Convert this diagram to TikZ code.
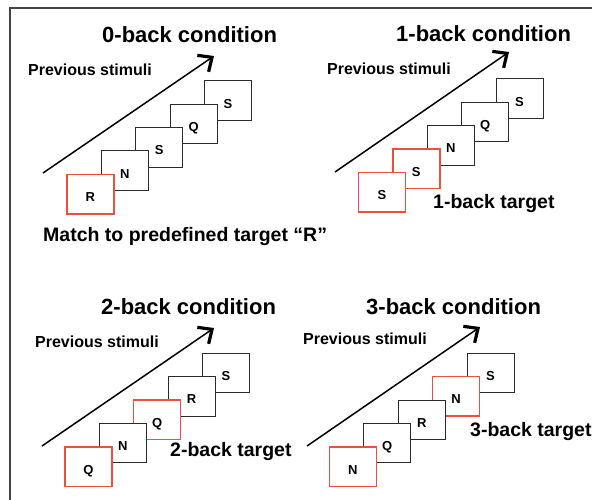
\documentclass[tikz,border=0pt]{standalone}
\usepackage{fontspec}
\setmainfont{Liberation Sans}
\usepackage{tikz}
\usetikzlibrary{positioning,arrows.meta}
\definecolor{tgtred}{HTML}{E8503F}
\definecolor{boxline}{HTML}{2B2B2B}
\definecolor{frameline}{HTML}{444444}
\tikzset{
  stim/.style={rectangle,draw=boxline,fill=white,line width=1pt,
    minimum width=47pt,minimum height=39.5pt,inner sep=0pt,outer sep=0pt,
    font=\fontsize{13}{14}\selectfont\bfseries,text height=15pt,text depth=0pt},
  tgt/.style={stim,draw=tgtred,line width=1.5pt},
  ttl/.style={anchor=base west,inner sep=0pt,font=\fontsize{22}{26}\selectfont\bfseries},
  prev/.style={anchor=base west,inner sep=0pt,font=\fontsize{16}{19}\selectfont\bfseries},
  lbl/.style={anchor=base west,inner sep=0pt,font=\fontsize{19.5}{23}\selectfont\bfseries},
  ar/.style={-{Straight Barb[length=11pt,width=20pt,line width=3.2pt]},line width=1.5pt,draw=black},
}

\begin{document}
\begin{tikzpicture}[x=1pt,y=-1pt,node distance=-16.1pt and -12.6pt]
  \useasboundingbox (0,0) rectangle (592,499);
  \draw[frameline,line width=1.4pt] (10,510) |- (600,8);

  % 0-back
  \node[ttl] (t0) at (102,42) {0-back condition};
  \node[prev] (p0) at (28,75) {Previous stimuli};
  \coordinate (a0s) at (43,173);
  \coordinate (a0e) at (214,56);
  \draw[ar] (a0s) -- (a0e);
  \node[stim] (a4) at (228,100.5) {S};
  \node[stim,below left=of a4] (a3) {Q};
  \node[stim,below left=of a3] (a2) {S};
  \node[stim,below left=of a2] (a1) {N};
  \node[tgt,below left=of a1] (a0) {R};
  \node[lbl] (m0) at (43,241) {Match to predefined target “R”};

  % 1-back
  \node[ttl] (t1) at (396,41) {1-back condition};
  \node[prev] (p1) at (327,74) {Previous stimuli};
  \coordinate (b0s) at (335,172);
  \coordinate (b0e) at (509,52);
  \draw[ar] (b0s) -- (b0e);
  \node[stim] (b4) at (519.5,98.5) {S};
  \node[stim,below left=of b4] (b3) {Q};
  \node[stim,below left=of b3] (b2) {N};
  \node[tgt,below left=of b2] (b1) {S};
  \node[tgt,below left=of b1] (b0) {S};
  \node[lbl] (m1) at (433,208) {1-back target};

  % 2-back
  \node[ttl] (t2) at (101,314) {2-back condition};
  \node[prev] (p2) at (35,347) {Previous stimuli};
  \coordinate (c0s) at (42,446);
  \coordinate (c0e) at (214,328);
  \draw[ar] (c0s) -- (c0e);
  \node[stim] (c4) at (226,373) {S};
  \node[stim,below left=of c4] (c3) {R};
  \node[tgt,below left=of c3] (c2) {Q};
  \node[stim,below left=of c2] (c1) {N};
  \node[tgt,below left=of c1] (c0) {Q};
  \node[lbl] (m2) at (170,456) {2-back target};

  % 3-back
  \node[ttl] (t3) at (366,314) {3-back condition};
  \node[prev] (p3) at (303,344) {Previous stimuli};
  \coordinate (d0s) at (307,446);
  \coordinate (d0e) at (480,327);
  \draw[ar] (d0s) -- (d0e);
  \node[stim] (d4) at (490.5,373) {S};
  \node[tgt,below left=of d4] (d3) {N};
  \node[stim,below left=of d3] (d2) {R};
  \node[stim,below left=of d2] (d1) {Q};
  \node[tgt,below left=of d1] (d0) {N};
  \node[lbl] (m3) at (470,436) {3-back target};
\end{tikzpicture}
\end{document}
